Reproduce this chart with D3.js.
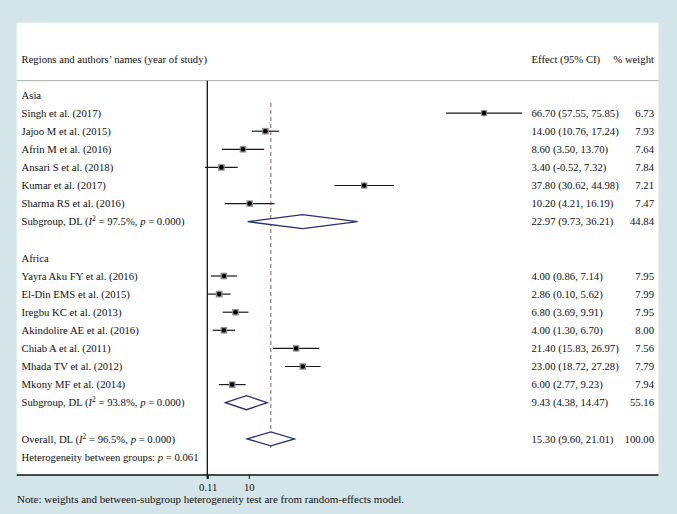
<!DOCTYPE html>
<html><head><meta charset="utf-8">
<script src="https://cdn.jsdelivr.net/npm/d3@7"></script>
<style>body{margin:0;background:#d4e5e9;}svg{display:block;}</style>
</head><body><svg id="c" width="677" height="514"></svg>
<script>
// ---- data ----
const studyNames = ["Singh et al. (2017)","Jajoo M et al. (2015)","Afrin M et al. (2016)","Ansari S et al. (2018)","Kumar et al. (2017)","Sharma RS et al. (2016)",
  "Yayra Aku FY et al. (2016)","El-Din EMS et al. (2015)","Iregbu KC et al. (2013)","Akindolire AE et al. (2016)","Chiab A et al. (2011)","Mhada TV et al. (2012)","Mkony MF et al. (2014)"];
const studyRegion = ["Asia","Asia","Asia","Asia","Asia","Asia","Africa","Africa","Africa","Africa","Africa","Africa","Africa"];
const studyEffect = [66.70,14.00,8.60,3.40,37.80,10.20,4.00,2.86,6.80,4.00,21.40,23.00,6.00];
const studyLower  = [57.55,10.76,3.50,-0.52,30.62,4.21,0.86,0.10,3.69,1.30,15.83,18.72,2.77];
const studyUpper  = [75.85,17.24,13.70,7.32,44.98,16.19,7.14,5.62,9.91,6.70,26.97,27.28,9.23];
const studyWeight = [6.73,7.93,7.64,7.84,7.21,7.47,7.95,7.99,7.95,8.00,7.56,7.79,7.94];
const regions = ["Asia","Africa"];
const subI2 = ["97.5%","93.8%"];
const subP = ["0.000","0.000"];
const subEffect = [22.97,9.43];
const subLower = [9.73,4.38];
const subUpper = [36.21,14.47];
const subWeight = [44.84,55.16];
const overallI2 = "96.5%", overallP = "0.000";
const overallEffect = 15.30, overallLower = 9.60, overallUpper = 21.01, overallWeight = 100.00;
const hetP = "0.061";
const tickValues = [0.11, 10];
const tickLabels = ["0.11", "10"];

// ---- layout ----
const svg = d3.select("#c");
const font = "'Liberation Serif', 'Times New Roman', serif";
const fs = 10.7;
const panel = {x0: 16.7, x1: 658.5, y0: 22.7, y1: 475};
const x = d3.scaleLinear().domain([0, 10]).range([207.3, 248.8]);
const rowY = i => 95 + i * 18.1;
const colEffect = 531.5, colWeight = 654;

svg.append("rect").attr("x", panel.x0).attr("y", panel.y0)
  .attr("width", panel.x1 - panel.x0).attr("height", panel.y1 - panel.y0).attr("fill", "#fff");

// build rows
const rows = [];
let r = 0;
regions.forEach((reg, gi) => {
  rows.push({type: "group", label: reg, row: r++});
  studyNames.forEach((n, i) => {
    if (studyRegion[i] === reg) rows.push({type: "study", label: n, eff: studyEffect[i], lo: studyLower[i], hi: studyUpper[i], w: studyWeight[i], row: r++});
  });
  rows.push({type: "sub", i2: subI2[gi], p: subP[gi], eff: subEffect[gi], lo: subLower[gi], hi: subUpper[gi], w: subWeight[gi], row: r++});
  r++;
});
const overallRow = r;
const hetRow = r + 1;
const firstStudyRow = 1;
rows.push({type: "overall", i2: overallI2, p: overallP, eff: overallEffect, lo: overallLower, hi: overallUpper, w: overallWeight, row: overallRow});

// header
const t = (xx, yy, anchor) => svg.append("text").attr("x", xx).attr("y", yy)
  .attr("font-family", font).attr("font-size", fs).attr("fill", "#111").attr("text-anchor", anchor || "start");
t(21.5, 63, "start").text("Regions and authors\u2019 names (year of study)");
t(colEffect, 63, "start").text("Effect (95% CI)");
t(colWeight, 63, "end").text("% weight");
svg.append("line").attr("x1", panel.x0).attr("x2", panel.x1).attr("y1", 80.7).attr("y2", 80.7)
  .attr("stroke", "#a8a8a8").attr("stroke-width", 1);

// null line
svg.append("line").attr("x1", x(0)).attr("x2", x(0)).attr("y1", 80.7).attr("y2", panel.y1 + 4)
  .attr("stroke", "#111").attr("stroke-width", 1.3);

// overall dashed line
svg.append("line").attr("x1", x(overallEffect)).attr("x2", x(overallEffect))
  .attr("y1", rowY(firstStudyRow) - 10).attr("y2", rowY(overallRow) + 9)
  .attr("stroke", "#b07f87").attr("stroke-width", 1.3).attr("stroke-dasharray", "4,3");

const fmt = d => d.toFixed(2);
rows.forEach(d => {
  const cy = rowY(d.row), by = cy + 3.6;
  if (d.type === "group") { t(21.5, by).text(d.label); return; }
  if (d.type === "study") {
    t(21.5, by).text(d.label);
    svg.append("line").attr("x1", x(d.lo)).attr("x2", x(d.hi)).attr("y1", cy).attr("y2", cy)
      .attr("stroke", "#1a1a1a").attr("stroke-width", 1.2);
    const s = 2.35 * Math.sqrt(d.w);
    svg.append("rect").attr("x", x(d.eff) - s / 2).attr("y", cy - s / 2).attr("width", s).attr("height", s)
      .attr("fill", "#8c8c8c");
    svg.append("circle").attr("cx", x(d.eff)).attr("cy", cy).attr("r", 2.3).attr("fill", "#000");
  } else {
    const tx = t(21.5, by);
    tx.append("tspan").text(d.type === "sub" ? "Subgroup, DL (" : "Overall, DL (");
    tx.append("tspan").attr("font-style", "italic").text("I");
    tx.append("tspan").attr("font-size", fs * 0.7).attr("dy", -4).text("2");
    tx.append("tspan").attr("dy", 4).text(" = " + d.i2 + ", ");
    tx.append("tspan").attr("font-style", "italic").text("p");
    tx.append("tspan").text(" = " + d.p + ")");
    const h = 7;
    const pts = [[x(d.lo), cy], [x(d.eff), cy - h], [x(d.hi), cy], [x(d.eff), cy + h]];
    svg.append("path").attr("d", d3.line()(pts) + "Z").attr("fill", "#fff")
      .attr("stroke", "#2b306b").attr("stroke-width", 1.3);
  }
  t(colEffect, by).text(fmt(d.eff) + " (" + fmt(d.lo) + ", " + fmt(d.hi) + ")");
  t(colWeight, by, "end").text(fmt(d.w));
});

// heterogeneity
const ht = t(21.5, rowY(hetRow) + 3.6);
ht.append("tspan").text("Heterogeneity between groups: ");
ht.append("tspan").attr("font-style", "italic").text("p");
ht.append("tspan").text(" = " + hetP);

// axis
svg.append("line").attr("x1", panel.x0).attr("x2", panel.x1).attr("y1", panel.y1).attr("y2", panel.y1)
  .attr("stroke", "#111").attr("stroke-width", 1.3);
const axis = d3.axisBottom(x).tickValues(tickValues).tickFormat((v, i) => tickLabels[i]).tickSizeOuter(0).tickSize(4);
const ag = svg.append("g").attr("transform", `translate(0,${panel.y1})`).call(axis);
ag.select(".domain").remove();
ag.selectAll("text").attr("font-family", font).attr("font-size", fs).attr("fill", "#111").attr("dy", "0.85em");
ag.selectAll("line").attr("stroke", "#111");

// note
t(17, 503).attr("font-size", 11).text("Note: weights and between-subgroup heterogeneity test are from random-effects model.");
</script></body></html>
